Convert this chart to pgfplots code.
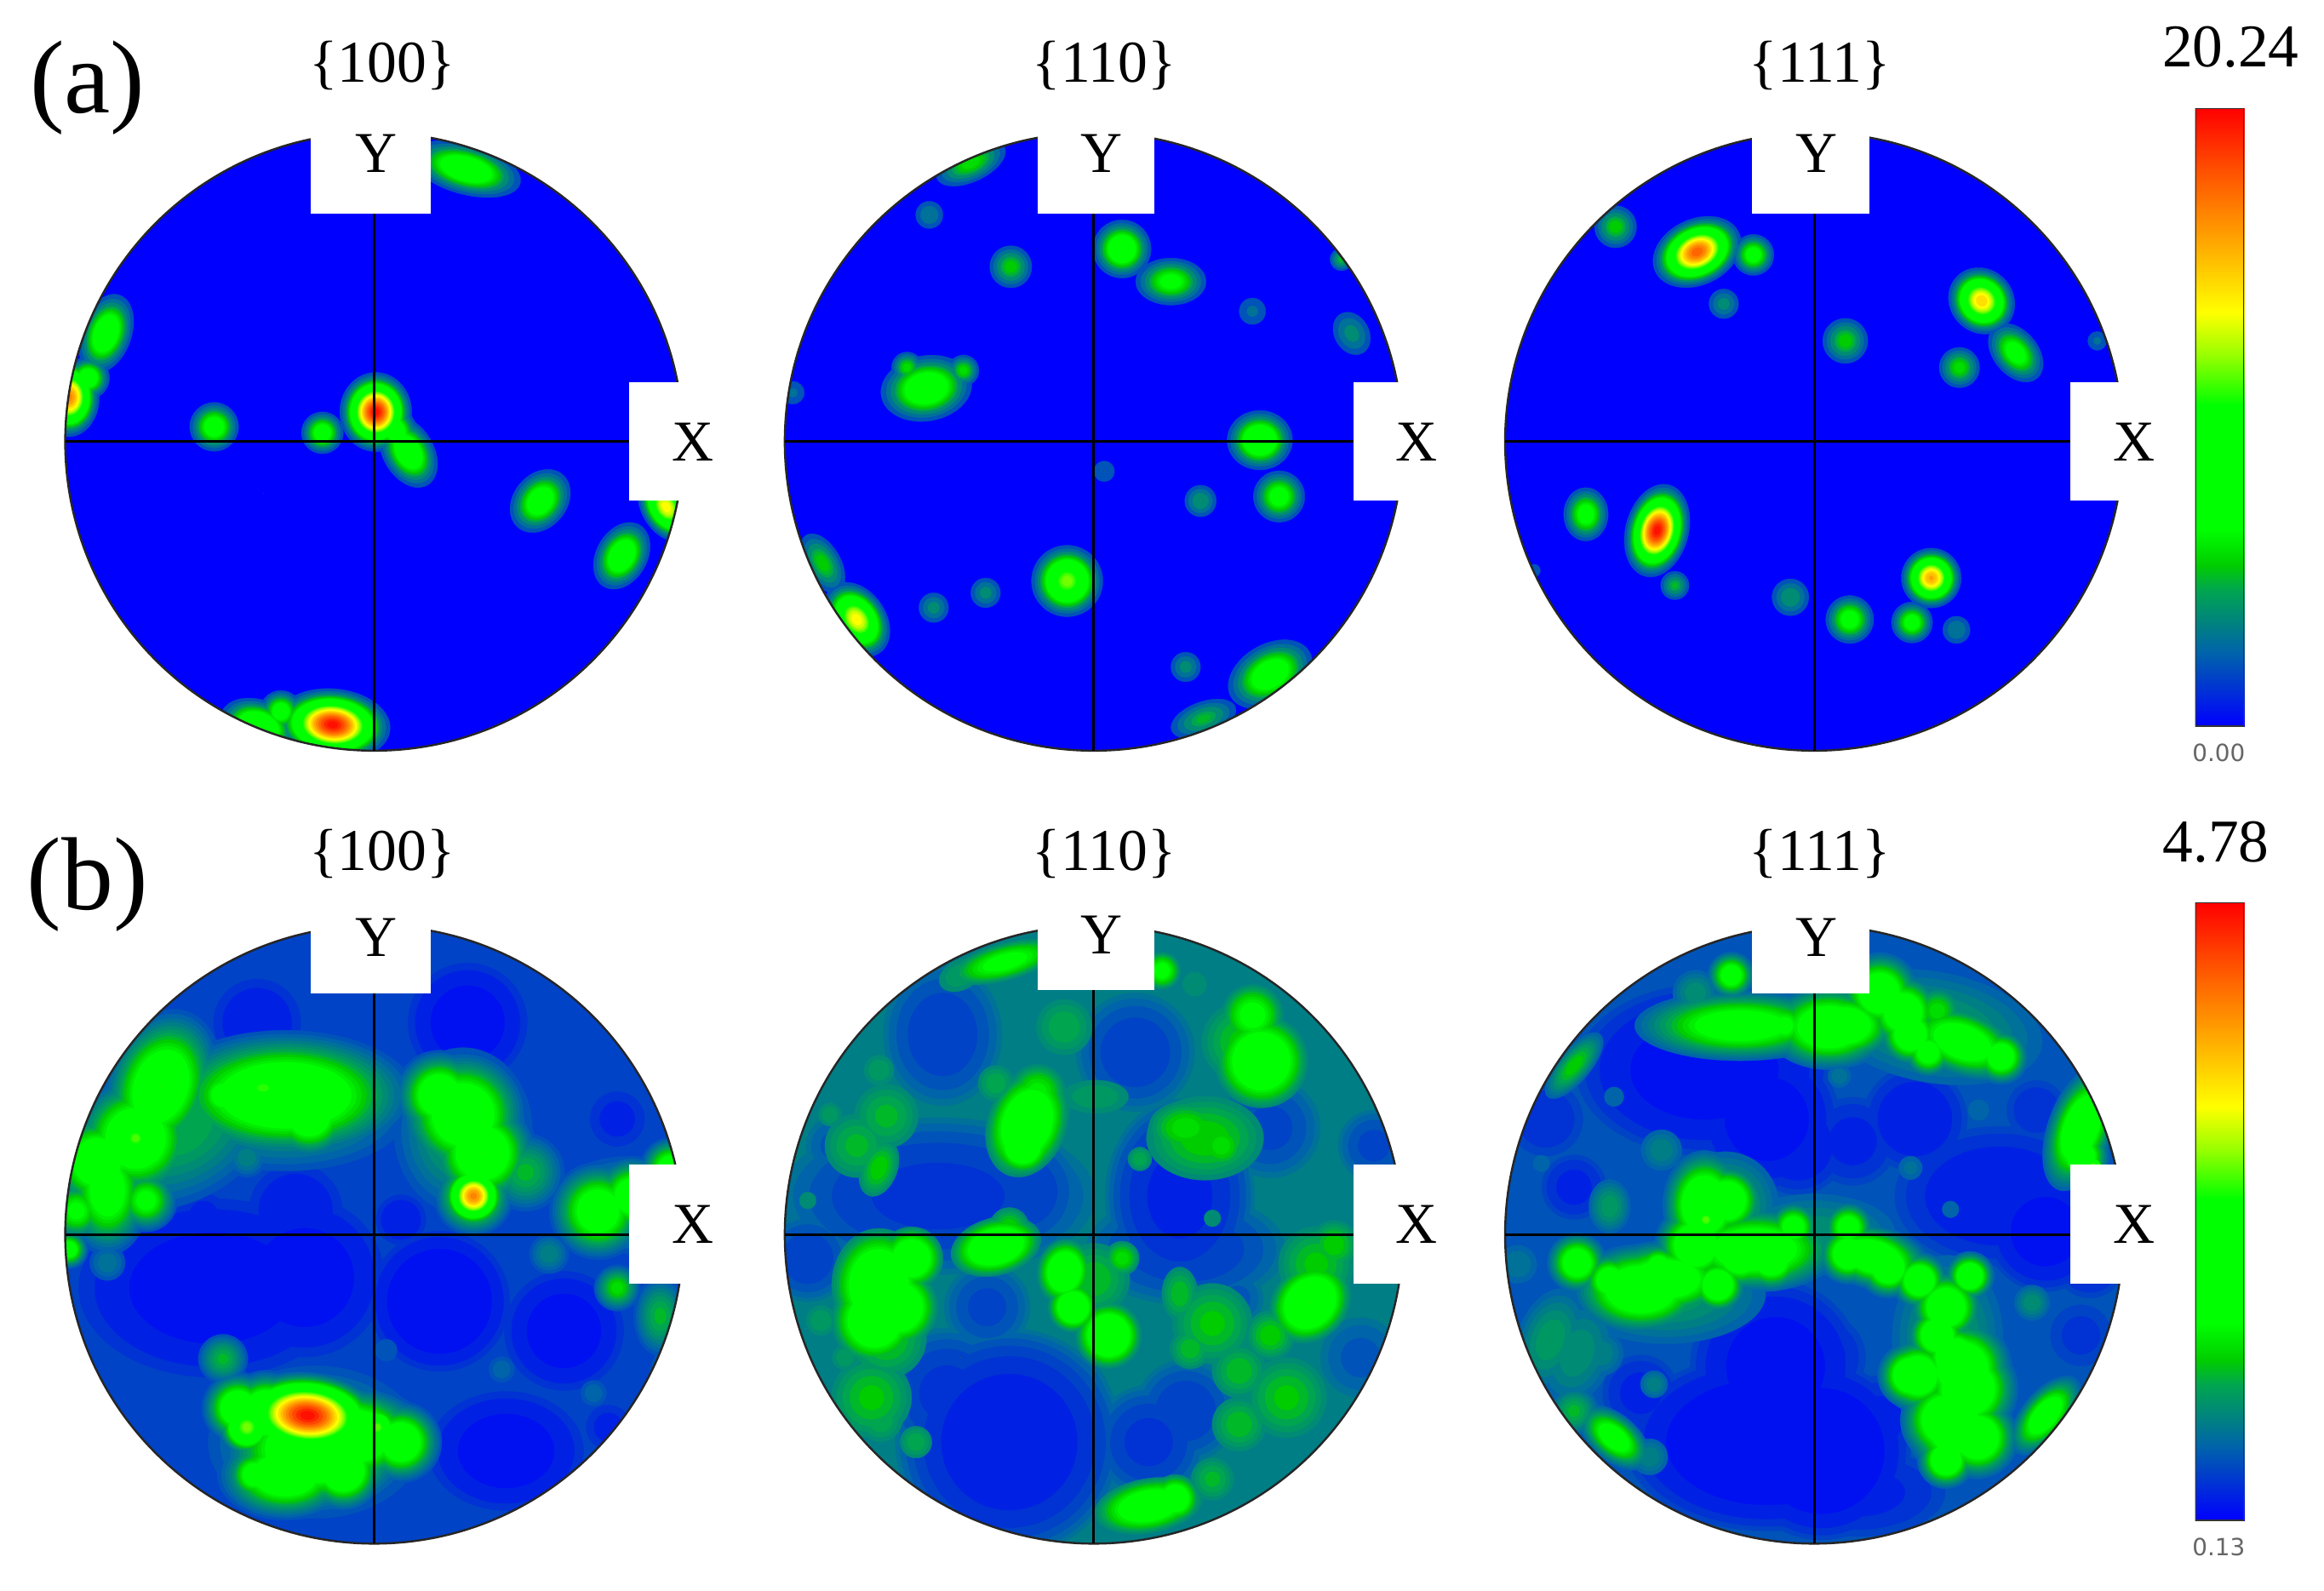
\documentclass[border=0pt]{standalone}
\usepackage{fontspec}
\setmainfont{Liberation Serif}
\newfontfamily\barfont{DejaVu Sans}
\usepackage{pgfplots}
\usepackage{pgfplotstable}
\pgfplotsset{compat=1.18}
% level colours
\definecolor{lv0}{RGB}{0,0,255}
\definecolor{lv2}{RGB}{0,17,241}
\definecolor{lv4}{RGB}{0,33,227}
\definecolor{lv6}{RGB}{0,50,212}
\definecolor{lv8}{RGB}{0,67,198}
\definecolor{lv10}{RGB}{0,83,184}
\definecolor{lv12}{RGB}{0,100,170}
\definecolor{lv14}{RGB}{0,113,152}
\definecolor{lv16}{RGB}{0,126,134}
\definecolor{lv18}{RGB}{0,139,116}
\definecolor{lv20}{RGB}{0,152,98}
\definecolor{lv22}{RGB}{0,165,80}
\definecolor{lv24}{RGB}{0,185,40}
\definecolor{lv26}{RGB}{0,205,0}
\definecolor{lv28}{RGB}{0,222,0}
\definecolor{lv30}{RGB}{0,238,0}
\definecolor{lv32}{RGB}{0,255,0}
\definecolor{lv54}{RGB}{38,255,0}
\definecolor{lv56}{RGB}{75,255,0}
\definecolor{lv58}{RGB}{113,255,0}
\definecolor{lv60}{RGB}{150,255,0}
\definecolor{lv63}{RGB}{205,255,0}
\definecolor{lv67}{RGB}{255,255,0}
\definecolor{lv71}{RGB}{255,224,0}
\definecolor{lv75}{RGB}{255,193,0}
\definecolor{lv79}{RGB}{255,162,0}
\definecolor{lv83}{RGB}{255,132,0}
\definecolor{lv87}{RGB}{255,102,0}
\definecolor{lv91}{RGB}{255,72,0}
\definecolor{lv95}{RGB}{255,40,0}
\definecolor{lv98}{RGB}{255,16,0}
% ---------- data: x y (px from centre), r width, p peak (% of scale), e elongation, t angle
\pgfplotstableread{
x y r p e t
62 184 14 45 2.2 -15
-181 73 14 45 1.6 70
-193 43 12 42 1 0
-206 30 14 85 1.3 90
-108 10 14 40 1 0
-35 6 12 40 1 0
1 20 16 100 1.1 90
23 -7 14 45 1.5 -60
14 8 12 42 1.4 -60
-75 -35 8 8 1 0
112 -40 15 42 1.3 50
167 -77 14 45 1.4 60
197 -44 12 70 1.5 -60
-28 -191 16 100 1.6 -5
-78 -192 14 50 1.5 -20
-63 -182 12 40 1 0
}\tAa
\pgfplotstableread{
x y r p e t
-83 188 12 30 2 25
-111 153 12 18 1 0
-56 118 14 28 1 0
19 130 16 45 1 0
52 108 14 36 1.5 0
107 88 14 15 1 0
174 73 14 20 1.3 -60
167 123 8 25 1 0
-113 36 18 45 1.4 10
-126 50 10 30 1 0
-88 48 10 30 1 0
-203 33 12 15 1 0
112 1 16 48 1.1 0
7 -20 12 14 1 0
72 -40 12 22 1 0
125 -37 15 38 1 0
-18 -94 18 60 1 0
-73 -102 12 20 1 0
-108 -112 12 20 1 0
-160 -120 14 70 1.4 -55
-183 -82 12 28 1.8 -60
62 -152 12 20 1 0
119 -157 17 42 1.5 30
74 -187 12 25 2 20
}\tAb
\pgfplotstableread{
x y r p e t
-134 145 14 28 1 0
-79 128 15 90 1.4 25
-41 126 12 38 1 0
-61 93 12 20 1 0
113 95 15 75 1.1 -45
136 60 13 38 1.5 -50
21 68 15 28 1 0
98 50 13 30 1 0
191 68 10 15 1 0
-154 -49 13 38 1.2 90
-106 -60 14 100 1.5 75
-94 -97 10 25 1 0
-189 -87 10 12 1 0
-16 -105 14 22 1 0
79 -92 14 80 1 0
24 -120 14 38 1 0
66 -122 12 38 1 0
96 -127 12 18 1 0
}\tAc
\pgfplotstableread{
x y r p e t
-130 70 40 24 1.5 30
-60 85 36 24 2 0
60 70 40 24 1.2 90
-40 -140 44 24 1.4 0
170 20 28 24 1.5 0
-40 -145 27 50 1.5 0
-180 30 20 40 1.5 90
-144 100 25 45 1.4 70
-161 65 28 45 1 0
-187 49 22 45 1 0
-201 16 15 35 1 0
-154 23 15 36 1 0
-60 94 28 48 2 0
-44 81 20 45 1 0
-102 94 15 38 1 0
-86 52 14 18 1 0
44 94 20 44 1 0
60 81 28 46 1 0
73 55 24 46 1 0
67 26 18 42 1 0
65 110 14 16 1 0
102 42 22 25 1 0
151 16 22 42 1 0
174 26 18 42 1 0
200 45 14 40 1 0
164 -36 12 30 1 0
193 -55 15 25 1.5 90
118 -13 14 18 1 0
-180 -19 14 16 1 0
-206 -10 9 40 1 0
-86 -130 12 60 1 0
-73 -120 18 50 1 0
-92 -117 16 45 1 0
-18 -136 22 50 1.6 0
18 -140 18 45 1 0
-60 -162 20 45 1.5 0
-21 -159 18 48 1 0
-81 -162 13 40 1 0
2 -130 9 58 1 0
-102 -84 14 25 1 0
86 -91 12 14 1 0
148 -107 12 14 1 0
8 -78 14 12 1 0
198 -88 10 20 2 70
-161 65 10 58 1 0
-75 99 10 56 1.6 0
67 26 12 85 1 0
-45 -122 16 100 1.7 -5
}\tBa
\pgfplotstableread{
x y r p e t
100 130 34 27 1 0
130 -110 34 27 1 0
80 -60 34 27 1 0
-150 -110 34 27 1 0
-140 -70 34 27 1 0
-140 80 30 25 1 0
-160 60 30 25 1 0
-20 140 28 24 1 0
150 -20 32 27 1 0
0 -30 32 26 1 0
-40 85 30 27 1 0
75 65 34 28 1.4 0
-45 75 22 46 1.4 70
-48 60 16 46 1 0
-38 96 20 32 1 0
-66 102 18 24 1 0
1 93 20 22 2 0
113 117 26 46 1 0
107 148 20 36 1 0
46 178 12 36 1 0
68 169 20 20 1 0
-60 184 12 36 3 15
-90 175 18 22 1.5 25
-145 111 18 22 1 0
-178 81 14 22 1 0
-145 45 15 28 1.6 70
-193 23 14 20 1 0
62 72 20 30 1.4 0
86 60 18 30 1 0
31 51 12 24 1 0
80 11 14 20 1 0
113 29 16 18 1 0
162 -7 20 28 1 0
-66 -8 16 46 1.6 15
-57 5 16 28 1 0
-145 -34 26 47 1.2 90
-123 -16 18 44 1 0
-148 -58 24 46 1 0
-132 -49 22 46 1 0
-184 -58 18 22 1 0
-20 -25 15 46 1.2 80
-14 -49 14 46 1 0
10 -68 18 48 1 0
19 -16 13 30 1 0
58 -40 16 26 1.5 90
65 -77 18 26 1 0
146 -46 20 48 1.2 45
119 -68 20 28 1 0
98 -92 24 26 1 0
98 -128 24 26 1 0
80 -165 20 25 1 0
37 -183 16 42 2 10
55 -178 14 42 1 0
-144 -125 22 24 1 0
-120 -140 16 24 1 0
-168 -83 15 22 1 0
-90 -83 12 18 1 0
}\tBb
\pgfplotstableread{
x y r p e t
90 -70 40 22 1.5 90
-100 -40 36 22 2 0
0 0 32 20 2 0
80 140 40 22 2 -10
-160 -80 28 20 1.5 70
-60 20 36 24 1 0
-200 -20 20 16 1 0
100 -90 24 46 1 0
95 -130 24 46 1 0
70 -95 18 46 1 0
-100 -30 19 44 1.8 0
-40 -10 21 44 2 0
40 -15 16 44 1.8 -15
60 150 19 44 1 0
10 140 21 44 1.5 0
100 130 18 42 1.8 -20
-50 141 18 40 3 0
-74 141 12 38 1 0
-20 141 14 36 1 0
20 141 18 44 1.5 0
44 163 20 44 1 0
65 135 16 44 1 0
77 123 13 40 1 0
95 132 15 40 1 0
126 120 14 42 1 0
83 151 16 30 1 0
-56 175 12 40 1 0
-80 163 18 20 1 0
180 72 16 46 2 70
180 53 14 44 1 0
-162 114 10 28 2.5 50
17 107 12 16 1 0
-135 93 14 14 1 0
65 45 14 15 1 0
92 17 12 14 1 0
111 84 15 14 1 0
-103 57 18 18 1 0
-184 48 12 14 1 0
-138 19 15 22 1.3 90
-74 20 20 48 1.3 90
-59 23 18 46 1 0
-80 -7 20 46 1 0
-65 -34 14 46 1 0
-50 -13 18 46 1 0
-14 5 13 40 1 0
-29 -16 16 46 1 0
23 5 13 40 1 0
-160 -19 15 42 1 0
-138 -31 14 42 1 0
-117 -37 22 46 1.5 0
-105 -22 12 42 1 0
23 -13 15 44 1 0
50 -22 15 46 1 0
71 -31 14 46 1 0
105 -28 12 46 1 0
89 -49 18 46 1 0
83 -68 15 46 1 0
95 -83 18 46 1 0
65 -95 16 46 1 0
104 -104 24 47 1 0
89 -125 22 47 1 0
110 -137 20 46 1 0
89 -152 14 46 1 0
147 -46 14 20 1 0
156 -122 12 42 2 50
-108 -101 12 18 1 0
-144 -80 20 18 1 0
-178 -71 24 22 1.6 70
-135 -137 12 40 1.8 -40
-162 -119 16 25 1 0
-111 -150 16 18 1 0
188 46 5 62 1 0
-73 10 9 58 1 0
}\tBc
% holes: x y r d(lowest level) e t
\pgfplotstableread{
x y r p e t
63 143 30 1 1 0
-79 143 28 2 1 0
164 78 22 3 1 0
-53 16 30 2 1 0
-115 13 18 3 1 0
-109 -36 45 1 1.5 0
-47 -29 40 1 1 0
44 -45 30 0.5 1 0
18 10 16 2 1 0
128 -65 30 1 1 0
89 -146 30 1 1.3 0
158 -130 18 3 1 0
-157 -65 20 3 1 0
}\hBa
\pgfplotstableread{
x y r p e t
-102 135 30 6 1.2 90
28 123 30 6 1 0
119 72 28 7 1 0
189 60 20 7 1 0
58 26 28 3 1.3 90
-105 26 36 5 2 0
-48 29 30 6 1 0
62 -10 28 6 1.8 0
-193 -16 22 6 1 0
-175 60 20 9 1 0
-72 -49 24 7 1 0
97 -43 18 9 1 0
-57 -140 38 2 1 0
-99 -107 30 5 1 0
-23 -113 26 6 1 0
37 -140 26 5 1 0
62 -119 26 6 1 0
180 -83 28 9 1 0
}\hBb
\pgfplotstableread{
x y r p e t
-74 111 40 1 1.5 0
-32 78 34 1 1 0
-11 60 28 2 1 0
-181 78 30 4 1 0
-162 32 22 3 1 0
68 78 30 2 1 0
150 84 24 4 1 0
125 26 40 2 1.5 0
156 2 28 1 1 0
186 -19 24 3 1 0
26 63 30 3 1 0
-26 -89 40 1 1 0
-32 -140 36 0.5 1.6 0
5 -146 36 0.5 1 0
29 -174 30 3 2 0
44 -125 30 3 1 0
5 -83 30 3 1 0
180 -68 30 5 1 0
-117 -107 26 3 1 0
-156 -55 20 5 1 0
}\hBc
% #1 table, #2 level, #3 ratio, #4 scale
\newcommand\lay[4]{%
\addplot[scatter,only marks,mark=*,clip marker paths=true,
  scatter/use mapped color={draw=lv#2,fill=lv#2,line width=0.1pt},
  visualization depends on={\thisrow{r}\as\br},
  visualization depends on={\thisrow{p}\as\bp},
  visualization depends on={\thisrow{e}\as\be},
  visualization depends on={\thisrow{t}\as\bt},
  scatter/@pre marker code/.append style={/tikz/mark size={#4*0.5*\br*sqrt(max(ln(#3),0))},/tikz/rotate=\bt,/tikz/xscale=\be}
 ] table[x=x,y=y]{#1};}
\newcommand\blobs[3]{\pgfplotsinvokeforeach{#2,32,54,56,58,60,63,67,71,75,79,83,87,91,95,98}{\lay{#1}{##1}{\bp/##1}{#3}}}
\newcommand\holes[3]{\pgfplotsinvokeforeach{#2}{\lay{#1}{##1}{##1/\bp}{#3}}}
% #1 cx px, #2 cy px, #3 base, #4 draw layers, #5 Yl #6 Yr #7 Yb #8 Xl #9 Xt
\newcommand\pole[9]{%
\begin{axis}[at={(#1*0.5pt,{(1073-#2)*0.5pt})},anchor=center,width=225pt,height=225pt,scale only axis,
  xmin=-225,xmax=225,ymin=-225,ymax=225,hide axis,clip mode=individual]
\fill[lv#3] (axis cs:0,0) circle [radius=208.5];
#4
\fill[white,even odd rule] (axis cs:-227,-227) rectangle (axis cs:227,227) (axis cs:0,0) circle [radius=208.5];
\draw[black!85,line width=0.7pt] (axis cs:0,0) circle [radius=208.5];
\addplot[black,line width=0.85pt,no marks] coordinates {(-208.5,0) (#8,0)};
\addplot[black,line width=0.85pt,no marks] coordinates {(0,-208.5) (0,#7)};
\fill[white] (axis cs:#5,#7) rectangle (axis cs:#6,214);
\fill[white] (axis cs:#8,#9+40) rectangle (axis cs:225,#9-40);
\node[font=\fontsize{19.5}{20}\selectfont] at (axis cs:#5/2+#6/2+4,#7*0.667+92) {Y};
\node[font=\fontsize{19.5}{20}\selectfont] at (axis cs:#8+43,#9) {X};
\end{axis}}
\pgfplotsset{colormap={pf}{rgb255(0)=(0,0,255) rgb255(12)=(0,100,170) rgb255(22)=(0,165,80) rgb255(26)=(0,205,0) rgb255(32)=(0,255,0) rgb255(52)=(0,255,0) rgb255(60)=(150,255,0) rgb255(67)=(255,255,0) rgb255(78)=(255,170,0) rgb255(90)=(255,80,0) rgb255(100)=(255,0,0)}}
\newcommand\cbar[1]{%
\begin{axis}[at={(1481*0.5pt,{(1073-#1)*0.5pt})},anchor=south west,width=16.5pt,height=208.5pt,scale only axis,
  xmin=0,xmax=1,ymin=0,ymax=100,hide axis,colormap name=pf,view={0}{90},point meta min=0,point meta max=100]
\addplot[surf,shader=interp,mesh/rows=11,point meta=y] coordinates {
(0,0)(1,0)
(0,12)(1,12)
(0,22)(1,22)
(0,26)(1,26)
(0,32)(1,32)
(0,52)(1,52)
(0,60)(1,60)
(0,67)(1,67)
(0,78)(1,78)
(0,90)(1,90)
(0,100)(1,100)};
\draw[black!80,line width=0.6pt] (axis cs:0,0) rectangle (axis cs:1,100);
\end{axis}}
\begin{document}
\begin{tikzpicture}[x=1pt,y=1pt]
\path (0,0) rectangle (784,536.5);
\pole{252.5}{298}{0}{\blobs{\tAa}{10,14,18,22,24,26,28,30}{1}}{-43}{38}{154}{172}{0}
\pole{738}{298}{0}{\blobs{\tAb}{10,14,18,22,24,26,28,30}{1}}{-38}{41}{154}{175}{0}
\pole{1224}{298}{0}{\blobs{\tAc}{10,14,18,22,24,26,28,30}{1}}{-42}{37}{154}{173}{0}
\pole{252.5}{833}{8}{\holes{\hBa}{6,4,2}{1}\blobs{\tBa}{10,12,14,16,18,20,22,24,26,28,30}{1.25}}{-43}{38}{163}{172}{7}
\pole{738}{833}{16}{\holes{\hBb}{14,12,10,8,6,4,2}{1.45}\blobs{\tBb}{18,20,22,24,26,28,30}{1.25}}{-38}{41}{165}{175}{7}
\pole{1224}{833}{10}{\holes{\hBc}{8,6,4,2}{1}\blobs{\tBc}{12,14,16,18,20,22,24,26,28,30}{1.2}}{-42}{37}{163}{173}{7}
\cbar{490}
\cbar{1026}
\node[font=\fontsize{35}{36}\selectfont] at (29.5,{536.5-29.5}) {(a)};
\node[font=\fontsize{35}{36}\selectfont] at (29.5,{536.5-298.5}) {(b)};
\foreach \xx/\tx in {129/{\{100\}},372.5/{\{110\}},614/{\{111\}}}{
 \node[font=\fontsize{20}{20}\selectfont] at (\xx,{536.5-22}) {\tx};
 \node[font=\fontsize{20}{20}\selectfont] at (\xx,{536.5-288}) {\tx};
}
\node[font=\fontsize{20.5}{21}\selectfont] at (752.5,{536.5-16}) {20.24};
\node[font=\fontsize{20.5}{21}\selectfont] at (747.5,{536.5-284}) {4.78};
\node[font=\barfont\fontsize{8}{9}\selectfont,text=black!60] at (748.5,{536.5-254}) {0.00};
\node[font=\barfont\fontsize{8}{9}\selectfont,text=black!60] at (748.5,{536.5-522}) {0.13};
\end{tikzpicture}
\end{document}
